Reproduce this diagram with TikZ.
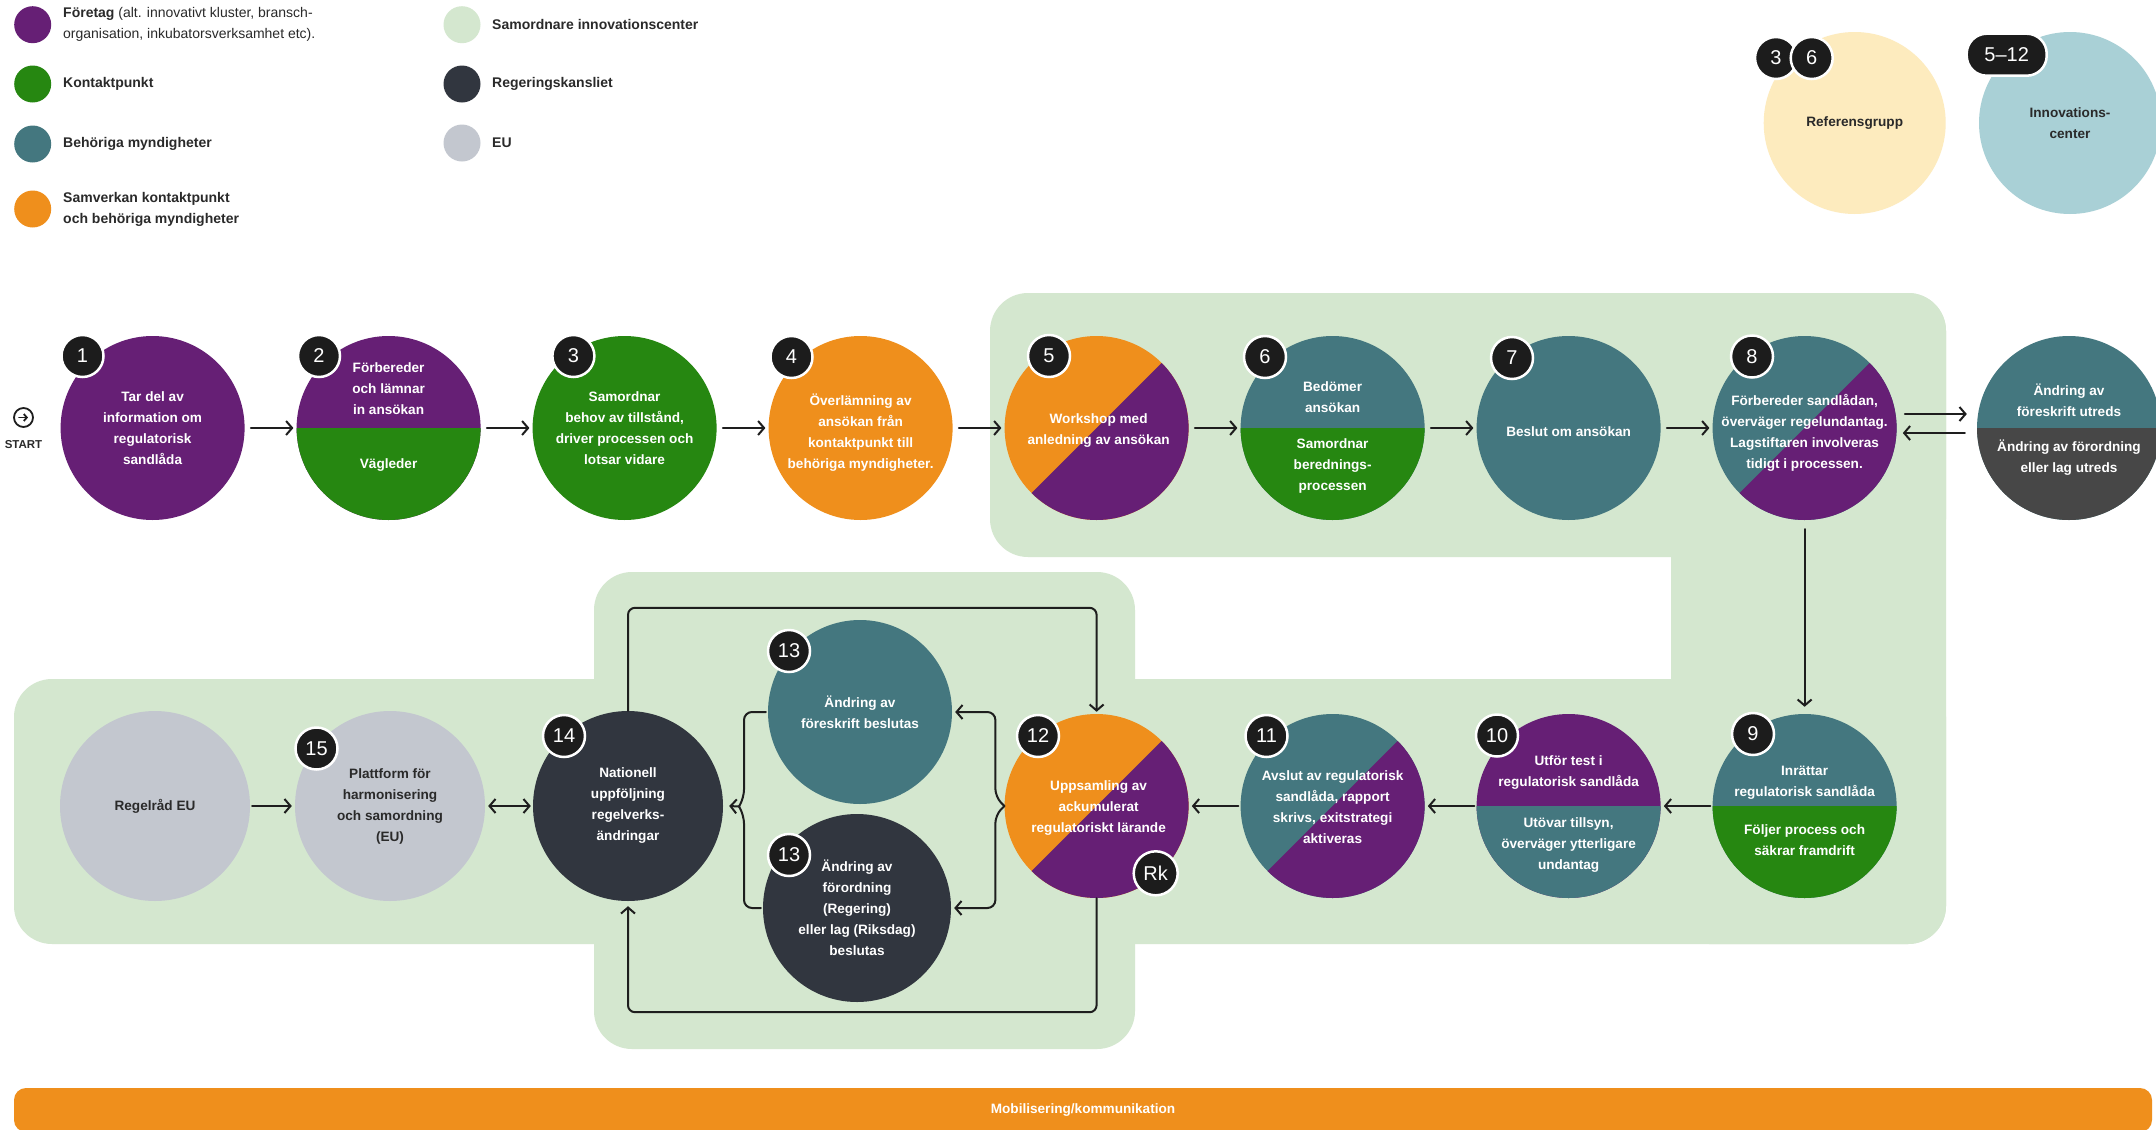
\documentclass[tikz,border=0pt]{standalone}
\usepackage{fontspec}
\setmainfont{Liberation Sans}
\usetikzlibrary{arrows.meta,calc}

\definecolor{cPurple}{HTML}{661F75}
\definecolor{cGreen}{HTML}{268711}
\definecolor{cTeal}{HTML}{44777F}
\definecolor{cOrange}{HTML}{EF8F1C}
\definecolor{cSlate}{HTML}{31363F}
\definecolor{cEU}{HTML}{C3C7CF}
\definecolor{cZone}{HTML}{D4E7CF}
\definecolor{cRef}{HTML}{FDEBBE}
\definecolor{cInno}{HTML}{A9D0D6}
\definecolor{cGrey}{HTML}{474747}
\definecolor{cBadge}{HTML}{1C1C1C}
\definecolor{cInk}{HTML}{2A2A2A}
\definecolor{cLine}{HTML}{1E1E1E}

\newcommand\circfont{\bfseries\fontsize{13.6}{21}\selectfont}
\newcommand\numfont{\fontsize{20}{20}\selectfont}
\newcommand\legfont{\fontsize{14}{21}\selectfont}

% two-colour discs: #1 node, #2 radius, #3 upper colour, #4 lower colour
\newcommand\flatsplit[4]{%
  \begin{scope}
    \clip (#1.center) circle[radius=#2pt];
    \fill[#3] ($(#1.center)+(-110,-110)$) rectangle ($(#1.center)+(110,110)$);
    \fill[#4] ($(#1.center)+(-110,0)$) rectangle ($(#1.center)+(110,-110)$);
  \end{scope}}
\newcommand\diagsplit[4]{%
  \begin{scope}
    \clip (#1.center) circle[radius=#2pt];
    \fill[#3] ($(#1.center)+(-110,-110)$) rectangle ($(#1.center)+(110,110)$);
    \fill[#4] ($(#1.center)+(-110,-110)$) -- ($(#1.center)+(110,110)$) -- ($(#1.center)+(110,-110)$) -- cycle;
  \end{scope}}

\begin{document}
\begin{tikzpicture}[x=1pt,y=1pt,
  disc/.style={circle, inner sep=0pt, minimum size=184pt},
  wide disc/.style={circle, inner sep=0pt, minimum size=190pt},
  ctext/.style={text=white, font=\circfont, align=center, inner sep=0pt},
  ink/.style={ctext, text=cInk},
  badge/.style={circle, fill=cBadge, draw=white, line width=2.5pt, minimum size=42pt, inner sep=0pt, text=white, font=\numfont},
  conn/.style={draw=cLine, line width=2pt, line cap=round, line join=round},
  arr/.style={conn, -{Straight Barb[length=6pt,width=14pt]}},
  darr/.style={conn, {Straight Barb[length=6pt,width=14pt]}-{Straight Barb[length=6pt,width=14pt]}},
  legdot/.style={circle, inner sep=0pt, minimum size=37pt},
  legtext/.style={anchor=west, align=left, inner sep=0pt, text=cInk, font=\legfont},
]
\fill[white] (0,0) rectangle (2156,-1130);
\useasboundingbox (0,0) rectangle (2156,-1130);

% innovation-centre zone behind steps 5-14
\begin{scope}[fill=cZone, rounded corners=38pt]
  \fill (990,-293) rectangle (1946,-557);
  \fill (1671,-293) rectangle (1946,-944);
  \fill (14,-679) rectangle (1946,-944);
  \fill (594,-572) rectangle (1135,-1049);
\end{scope}

% legend
\node[legdot, fill=cPurple] (lg1) at (32.7,-24.7) {};
\node[legtext] (lt1) at (63,-24.7) {\textbf{Företag} (alt. innovativt kluster, bransch-\\organisation, inkubatorsverksamhet etc).};
\node[legdot, fill=cGreen] (lg2) at (32.7,-84) {};
\node[legtext] (lt2) at (63,-84) {\textbf{Kontaktpunkt}};
\node[legdot, fill=cTeal] (lg3) at (32.7,-144) {};
\node[legtext] (lt3) at (63,-144) {\textbf{Behöriga myndigheter}};
\node[legdot, fill=cOrange] (lg4) at (32.7,-209) {};
\node[legtext] (lt4) at (63,-209) {\textbf{Samverkan kontaktpunkt}\\\textbf{och behöriga myndigheter}};
\node[legdot, fill=cZone] (lg5) at (462,-24.7) {};
\node[legtext] (lt5) at (492,-24.7) {\textbf{Samordnare innovationscenter}};
\node[legdot, fill=cSlate] (lg6) at (462,-84) {};
\node[legtext] (lt6) at (492,-84) {\textbf{Regeringskansliet}};
\node[legdot, fill=cEU] (lg7) at (462,-143) {};
\node[legtext] (lt7) at (492,-143) {\textbf{EU}};

% reference group and innovation centre
\node[circle, fill=cRef, inner sep=0pt, minimum size=182pt] (ref) at (1854.7,-123) {};
\node[ink] (reft) at (ref) {Referensgrupp};
\node[circle, fill=cInno, inner sep=0pt, minimum size=182pt] (inno) at (2070,-123) {};
\node[ink] (innot) at (inno) {Innovations-\\center};
\node[badge] (ref3) at (1776,-58) {3};
\node[badge] (ref6) at (1811.7,-58) {6};
\node[badge, rectangle, rounded corners=20pt, minimum width=80pt, minimum height=42pt] (pill) at (2006.7,-54.7) {5–12};

% start marker
\node[circle, draw=cLine, line width=1.8pt, minimum size=19pt, inner sep=0pt] (go) at (23.5,-417.5) {};
\draw[conn, line width=1.8pt, -{Straight Barb[length=3pt,width=7pt]}] ($(go)+(-4.5,0)$) -- ($(go)+(4.5,0)$);
\node[font=\bfseries\fontsize{11.5}{12}\selectfont, text=cInk] (gotxt) at (23.5,-445) {START};

% first row
\node[disc, fill=cPurple] (c1) at (152.6,-428) {};
\node[ctext] (t1) at (c1) {Tar del av\\information om\\regulatorisk\\sandlåda};
\node[disc] (c2) at (388.6,-428) {}; \flatsplit{c2}{92}{cPurple}{cGreen}
\node[ctext] (t2a) at ($(c2)+(0,39)$) {Förbereder\\och lämnar\\in ansökan};
\node[ctext] (t2b) at ($(c2)+(0,-37)$) {Vägleder};
\node[disc, fill=cGreen] (c3) at (624.6,-428) {};
\node[ctext] (t3) at (c3) {Samordnar\\behov av tillstånd,\\driver processen och\\lotsar vidare};
\node[disc, fill=cOrange] (c4) at (860.6,-428) {};
\node[ctext] (t4) at ($(c4)+(0,-5)$) {Överlämning av\\ansökan från\\kontaktpunkt till\\behöriga myndigheter.};
\node[disc] (c5) at (1096.6,-428) {}; \diagsplit{c5}{92}{cOrange}{cPurple}
\node[ctext] (t5) at ($(c5)+(2,-3)$) {Workshop med\\anledning av ansökan};
\node[disc] (c6) at (1332.6,-428) {}; \flatsplit{c6}{92}{cTeal}{cGreen}
\node[ctext] (t6a) at ($(c6)+(0,31)$) {Bedömer\\ansökan};
\node[ctext] (t6b) at ($(c6)+(0,-38)$) {Samordnar\\berednings-\\processen};
\node[disc, fill=cTeal] (c7) at (1568.6,-428) {};
\node[ctext] (t7) at ($(c7)+(0,-4)$) {Beslut om ansökan};
\node[disc] (c8) at (1804.6,-428) {}; \diagsplit{c8}{92}{cTeal}{cPurple}
\node[ctext] (t8) at ($(c8)+(0,-5)$) {Förbereder sandlådan,\\överväger regelundantag.\\Lagstiftaren involveras\\tidigt i processen.};
\node[disc] (cx) at (2069,-428) {}; \flatsplit{cx}{92}{cTeal}{cGrey}
\node[ctext] (txa) at ($(cx)+(0,28)$) {Ändring av\\föreskrift utreds};
\node[ctext] (txb) at ($(cx)+(0,-30)$) {Ändring av förordning\\eller lag utreds};

% second row
\node[disc] (c9) at (1804.6,-806) {}; \flatsplit{c9}{92}{cTeal}{cGreen}
\node[ctext] (t9a) at ($(c9)+(0,23.5)$) {Inrättar\\regulatorisk sandlåda};
\node[ctext] (t9b) at ($(c9)+(0,-34)$) {Följer process och\\säkrar framdrift};
\node[disc] (c10) at (1568.6,-806) {}; \flatsplit{c10}{92}{cPurple}{cTeal}
\node[ctext] (t10a) at ($(c10)+(0,33.5)$) {Utför test i\\regulatorisk sandlåda};
\node[ctext] (t10b) at ($(c10)+(0,-39.3)$) {Utövar tillsyn,\\överväger ytterligare\\undantag};
\node[disc] (c11) at (1332.6,-806) {}; \diagsplit{c11}{92}{cTeal}{cPurple}
\node[ctext] (t11) at ($(c11)+(0,-1.5)$) {Avslut av regulatorisk\\sandlåda, rapport\\skrivs, exitstrategi\\aktiveras};
\node[disc] (c12) at (1096.6,-806) {}; \diagsplit{c12}{92}{cOrange}{cPurple}
\node[ctext] (t12) at ($(c12)+(2,-2)$) {Uppsamling av\\ackumulerat\\regulatoriskt lärande};
\node[disc, fill=cTeal] (c13a) at (860,-712) {};
\node[ctext] (t13a) at (c13a) {Ändring av\\föreskrift beslutas};
\node[disc, minimum size=188pt, fill=cSlate] (c13b) at (857,-908) {};
\node[ctext] (t13b) at (c13b) {Ändring av\\förordning\\(Regering)\\eller lag (Riksdag)\\beslutas};
\node[wide disc, fill=cSlate] (c14) at (628,-806) {};
\node[ctext] (t14) at (c14) {Nationell\\uppföljning\\regelverks-\\ändringar};
\node[wide disc, fill=cEU] (c15) at (390,-806) {};
\node[ink] (t15) at (c15) {Plattform för\\harmonisering\\och samordning\\(EU)};
\node[wide disc, fill=cEU] (regel) at (155,-806) {};
\node[ink] (tregel) at (regel) {Regelråd EU};

% flow connectors
\foreach \a/\b in {c1/c2,c2/c3,c3/c4,c4/c5,c5/c6,c6/c7,c7/c8}
  \draw[arr, shorten <=6pt, shorten >=3pt] (\a) -- (\b);
\draw[arr] ($(c8.east)+(8,14)$) -- ($(cx.west)+(-10,14)$);
\draw[arr] ($(cx.west)+(-12,-5)$) -- ($(c8.east)+(6,-5)$);
\draw[arr, shorten <=9pt, shorten >=7pt] (c8) -- (c9);
\foreach \a/\b in {c9/c10,c10/c11,c11/c12}
  \draw[arr, shorten <=2pt, shorten >=3pt] (\a) -- (\b);
\draw[arr, shorten <=2pt, shorten >=3pt] (regel) -- (c15);
\draw[darr, shorten <=3pt, shorten >=2pt] (c15) -- (c14);

% feedback loops between 12 and 14
\draw[arr, rounded corners=7pt] (c14.north) -- ++(0,103) -| ([yshift=2pt]c12.north);
\draw[arr, rounded corners=7pt] (c12.south) -- ++(0,-114) -| ([yshift=-5pt]c14.south);

% brace from 12 to both decisions
\draw[arr, rounded corners=8pt] (c12.west) -- ++(-9,9) |- ([xshift=3pt]c13a.east);
\draw[arr, rounded corners=8pt] (c12.west) -- ++(-9,-9) |- ([xshift=3pt]c13b.east);

% brace from both decisions to 14
\coordinate (lbtip) at (739,-806.5);
\draw[conn, rounded corners=8pt] ([xshift=-2pt]c13a.west) -| ($(lbtip)+(5,9)$) -- (lbtip);
\draw[conn, rounded corners=8pt] ([xshift=-2pt]c13b.west) -| ($(lbtip)+(5,-9)$) -- (lbtip);
\draw[arr] (lbtip) -- ([xshift=6pt]c14.east);

% step numbers
\node[badge] (b1) at (82.5,-356) {1};
\node[badge] (b2) at (319,-356) {2};
\node[badge] (b3) at (573.4,-356) {3};
\node[badge] (b4) at (791.5,-357) {4};
\node[badge] (b5) at (1049,-356) {5};
\node[badge] (b6) at (1265,-357) {6};
\node[badge] (b7) at (1512,-358) {7};
\node[badge] (b8) at (1752,-356.5) {8};
\node[badge] (b9) at (1753,-734) {9};
\node[badge] (b10) at (1497,-735.5) {10};
\node[badge] (b11) at (1266.5,-736) {11};
\node[badge] (b12) at (1038,-736) {12};
\node[badge] (b13a) at (789,-651) {13};
\node[badge] (b13b) at (789,-855) {13};
\node[badge] (b14) at (564,-736) {14};
\node[badge] (b15) at (316.5,-748.5) {15};
\node[badge, minimum size=44pt] (rk) at (1155.7,-873.3) {Rk};

% mobilisation bar
\node[fill=cOrange, rounded corners=12pt, minimum width=2138pt, minimum height=44pt, inner sep=0pt, text=white, font=\circfont] (bar) at (1083,-1110) {Mobilisering/kommunikation};
\end{tikzpicture}
\end{document}
